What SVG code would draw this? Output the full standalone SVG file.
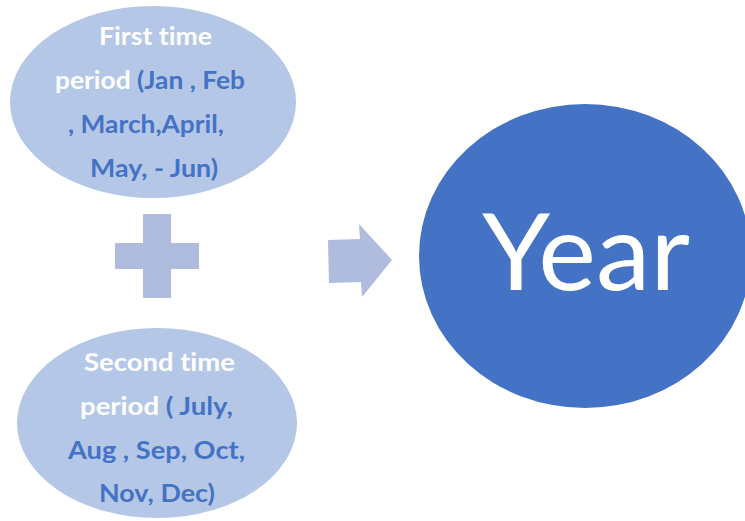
<svg xmlns="http://www.w3.org/2000/svg" width="745" height="521" viewBox="0 0 745 521">
<style>
.lt{fill:#B4C7E7}
.sh{fill:#B0BCDE}
.t{font-family:Lato,"Liberation Sans",sans-serif;font-weight:bold;font-size:24px;font-variant-ligatures:none}
.w{fill:#FFFFFF}
.b{fill:#4472C4}
.big{font-family:Lato,"Liberation Sans",sans-serif;font-size:107px;fill:#FFFFFF}
</style>
<rect width="745" height="521" fill="#FFFFFF"/>
<g id="first-period">
<ellipse class="lt" cx="153" cy="102" rx="143" ry="96"/>
<text class="t w" x="99" y="45" textLength="113" lengthAdjust="spacingAndGlyphs">First time</text>
<text class="t" x="55" y="89" textLength="190" lengthAdjust="spacingAndGlyphs"><tspan class="w">period </tspan><tspan class="b">(Jan , Feb</tspan></text>
<text class="t b" x="68" y="133" textLength="156" lengthAdjust="spacingAndGlyphs">, March,April,</text>
<text class="t b" x="90" y="177" textLength="128" lengthAdjust="spacingAndGlyphs">May, - Jun)</text>
</g>
<g id="plus">
<polygon class="sh" points="143,214 171,214 171,243 199,243 199,269 171,269 171,298 143,298 143,269 115,269 115,243 143,243"/>
</g>
<g id="second-period">
<ellipse class="lt" cx="157" cy="423" rx="140" ry="95"/>
<text class="t w" x="84" y="371" textLength="151" lengthAdjust="spacingAndGlyphs">Second time</text>
<text class="t" x="80" y="415" textLength="153" lengthAdjust="spacingAndGlyphs"><tspan class="w">period </tspan><tspan class="b">( July,</tspan></text>
<text class="t b" x="68" y="459" textLength="177" lengthAdjust="spacingAndGlyphs">Aug , Sep, Oct,</text>
<text class="t b" x="99" y="502" textLength="116" lengthAdjust="spacingAndGlyphs">Nov, Dec)</text>
</g>
<g id="connectors">
<polygon class="sh" points="328,240 360,239 359,224 392,260 362,297 361,282 329,283"/>
</g>
<g id="year">
<ellipse cx="585" cy="256" rx="166" ry="152" fill="#4472C4"/>
<text class="big" x="482" y="290" textLength="208" lengthAdjust="spacingAndGlyphs">Year</text>
</g>
</svg>
